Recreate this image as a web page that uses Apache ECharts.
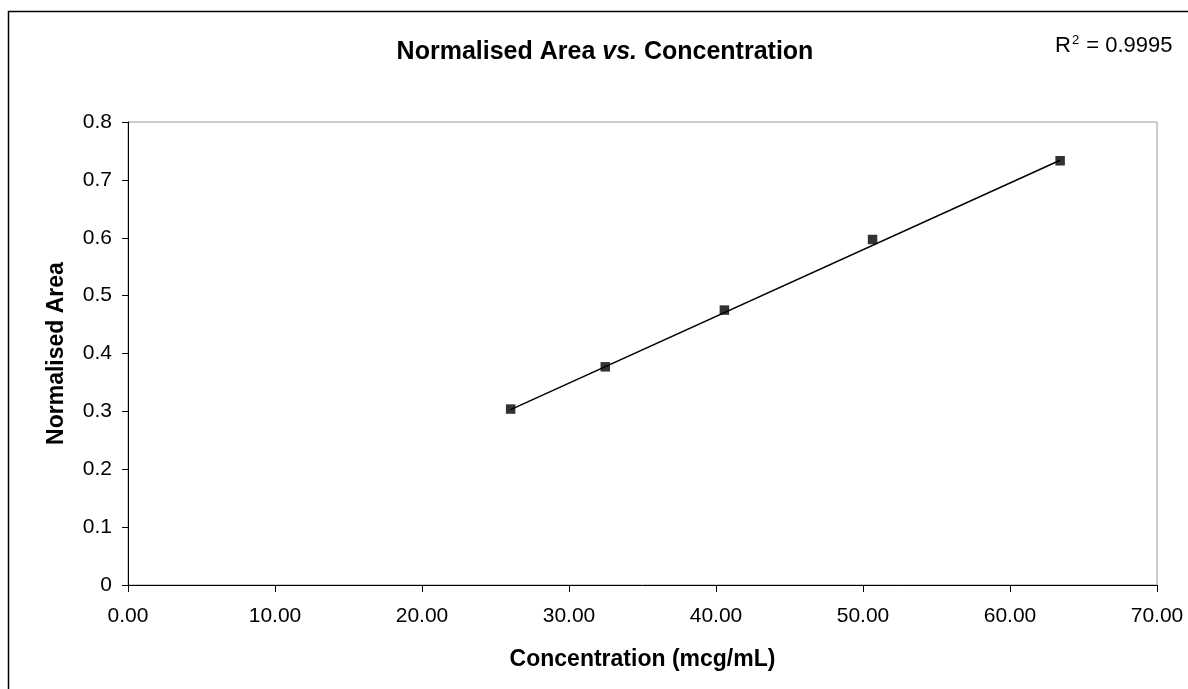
<!DOCTYPE html>
<html lang="en" style="height: 100%">
<head>
  <meta charset="utf-8">
</head>
<body style="height: 100%; margin: 0; background: #fff">
  <div id="container" style="width: 1188px; height: 689px"></div>

  <script type="text/javascript" src="https://cdn.jsdelivr.net/npm/echarts@6.0.0/dist/echarts.min.js"></script>

  <script type="text/javascript">
    // measured points (concentration, normalised area)
    var concentration = [26.03, 32.47, 40.57, 50.65, 63.41];
    var normArea = [0.304, 0.377, 0.475, 0.597, 0.733];
    // linear trendline ends
    var trendX = [26.03, 63.41];
    var trendY = [0.303, 0.734];
    var xTicks = ['0.00', '10.00', '20.00', '30.00', '40.00', '50.00', '60.00', '70.00'];
    var yTicks = ['0', '0.1', '0.2', '0.3', '0.4', '0.5', '0.6', '0.7', '0.8'];

    var font = 'Liberation Sans, Arial, sans-serif';
    var myChart = echarts.init(document.getElementById('container'), null, { renderer: 'canvas' });

    var option = {
      animation: false,
      backgroundColor: '#fff',
      title: {
        text: '{b|Normalised Area }{i|vs.}{b| Concentration}',
        left: 600,
        top: 35,
        textAlign: 'center',
        textStyle: {
          rich: {
            b: { fontFamily: font, fontSize: 25, fontWeight: 'bold', color: '#000' },
            i: { fontFamily: font, fontSize: 25, fontWeight: 'bold', fontStyle: 'italic', color: '#000' }
          }
        }
      },
      graphic: [
        {
          type: 'rect',
          shape: { x: 8.5, y: 11.5, width: 1300, height: 900 },
          style: { fill: 'none', stroke: '#000', lineWidth: 1.5 },
          silent: true
        },
        {
          type: 'text',
          left: 1055,
          top: 34,
          style: {
            text: '{r|R}{s|2}{r| = 0.9995}',
            rich: {
              r: { fontFamily: font, fontSize: 22, color: '#000', verticalAlign: 'bottom' },
              s: { fontFamily: font, fontSize: 13, color: '#000', verticalAlign: 'top', padding: [0, 1, 10, 1] }
            }
          }
        }
      ],
      grid: {
        left: 128,
        top: 122,
        right: 31,
        bottom: 104,
        show: true,
        borderColor: '#999',
        borderWidth: 1
      },
      xAxis: {
        type: 'value',
        min: 0,
        max: 70,
        interval: 10,
        name: 'Concentration (mcg/mL)',
        nameLocation: 'middle',
        nameGap: 63,
        nameTextStyle: { fontFamily: font, fontSize: 23, fontWeight: 'bold', color: '#000' },
        axisLine: { show: true, lineStyle: { color: '#000', width: 1 } },
        axisTick: { show: true, inside: false, length: 7, lineStyle: { color: '#000' } },
        axisLabel: {
          margin: 21,
          fontFamily: font,
          fontSize: 21,
          color: '#000',
          formatter: function (v) { return xTicks[Math.round(v / 10)]; }
        },
        splitLine: { show: false }
      },
      yAxis: {
        type: 'value',
        min: 0,
        max: 0.8,
        interval: 0.1,
        name: 'Normalised Area',
        nameLocation: 'middle',
        nameGap: 60,
        nameTextStyle: { fontFamily: font, fontSize: 23, fontWeight: 'bold', color: '#000' },
        axisLine: { show: true, lineStyle: { color: '#000', width: 1 } },
        axisTick: { show: true, inside: false, length: 6, lineStyle: { color: '#000' } },
        axisLabel: {
          margin: 16,
          fontFamily: font,
          fontSize: 21,
          color: '#000',
          formatter: function (v) { return yTicks[Math.round(v * 10)]; }
        },
        splitLine: { show: false }
      },
      series: [
        {
          name: 'Trend',
          type: 'line',
          data: trendX.map(function (x, i) { return [x, trendY[i]]; }),
          showSymbol: false,
          lineStyle: { color: '#000', width: 1.5 },
          silent: true,
          z: 2
        },
        {
          name: 'Normalised Area',
          type: 'scatter',
          data: concentration.map(function (x, i) { return [x, normArea[i]]; }),
          symbol: 'rect',
          symbolSize: 9.5,
          itemStyle: { color: '#000' },
          z: 3
        }
      ]
    };

    myChart.setOption(option);
    window.addEventListener('resize', myChart.resize);
  </script>
</body>
</html>
